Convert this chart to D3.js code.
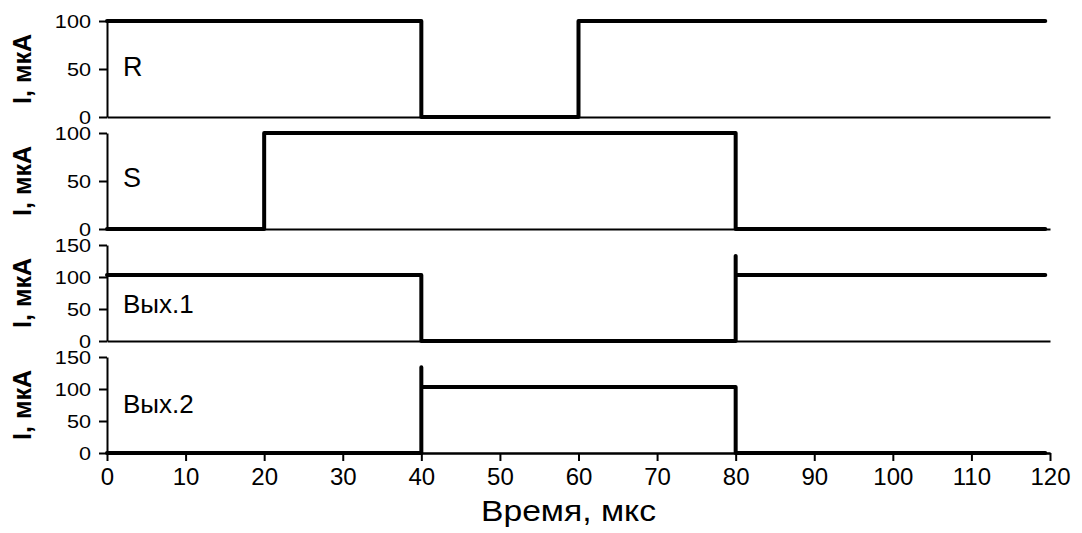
<!DOCTYPE html>
<html>
<head>
<meta charset="utf-8">
<script src="https://cdn.jsdelivr.net/npm/d3@7"></script>
<style>
  body { margin: 0; background: #fff; }
  svg { display: block; }
  text { font-family: "Liberation Sans", Arial, sans-serif; fill: #000; }
</style>
</head>
<body>
<div id="chart"></div>
<script>
/**
 * DATA
 * */
const panelNames = ["R", "S", "Вых.1", "Вых.2"];
const yMaxes = [100, 100, 150, 150];
const yTicksSmall = [0, 50, 100];
const yTicksBig = [0, 50, 100, 150];
const xTicks = [0, 10, 20, 30, 40, 50, 60, 70, 80, 90, 100, 110, 120];

// step signals: time (мкс) and current (мкА)
const rTime = [0, 40, 40, 60, 60, 119.4];
const rValues = [100, 100, 0, 0, 100, 100];
const sTime = [0, 20, 20, 80, 80, 119.4];
const sValues = [0, 0, 100, 100, 0, 0];
const out1Time = [0, 40, 40, 80, 80, 80, 119.4];
const out1Values = [103, 103, 0, 0, 133, 103, 103];
const out2Time = [0, 40, 40, 40, 80, 80, 119.4];
const out2Values = [0, 0, 134, 103, 103, 0, 0];

const yLabel = "I, мкА";
const xLabel = "Время, мкс";

/**
 * CONSTANTS
 * */
const width = 1082,
  height = 533,
  margin = { left: 107, right: 32, top: 21 },
  panelHeight = 96,
  panelGap = 16;

// where the name sits inside each panel (px from panel top)
const nameOffsets = [55, 54, 68, 56];
const nameSizes = [27, 27, 26, 26];

const series = [
  { time: rTime, values: rValues },
  { time: sTime, values: sValues },
  { time: out1Time, values: out1Values },
  { time: out2Time, values: out2Values }
];

let svg, x;

function init() {
  svg = d3
    .select("#chart")
    .append("svg")
    .attr("width", width)
    .attr("height", height);

  x = d3
    .scaleLinear()
    .domain([0, 120])
    .range([margin.left, width - margin.right]);

  series.forEach((s, i) => drawPanel(s, i));

  // bottom time axis on the last panel
  const lastBottom = margin.top + 4 * panelHeight + 3 * panelGap;
  const xAxis = svg
    .append("g")
    .attr("transform", `translate(0,${lastBottom})`)
    .call(
      d3
        .axisBottom(x)
        .tickValues(xTicks)
        .tickSize(8)
        .tickPadding(7)
        .tickSizeOuter(0)
    );
  styleAxis(xAxis, 24);

  // title sits a little left of the axis centre in the picture
  svg
    .append("text")
    .attr("x", x(60) - 10)
    .attr("y", 521)
    .attr("text-anchor", "middle")
    .attr("font-size", 29)
    .text(xLabel)
    .call(stretch, 1.16);
}

function drawPanel(s, i) {
  const top = margin.top + i * (panelHeight + panelGap);
  const y = d3
    .scaleLinear()
    .domain([0, yMaxes[i]])
    .range([top + panelHeight, top]);

  // baseline at zero, no ticks
  const base = svg
    .append("g")
    .attr("transform", `translate(0,${top + panelHeight})`)
    .call(d3.axisBottom(x).tickValues([]).tickSizeOuter(0));
  styleAxis(base, 24);

  const yAxis = svg
    .append("g")
    .attr("transform", `translate(${margin.left},0)`)
    .call(
      d3
        .axisLeft(y)
        .tickValues(yMaxes[i] > 100 ? yTicksBig : yTicksSmall)
        .tickSize(8)
        .tickPadding(8)
        .tickSizeOuter(0)
    );
  styleAxis(yAxis, 19);
  // the tick digits in the picture are a bit wider than the font
  const sx = 1.14;
  yAxis
    .selectAll(".tick text")
    .attr("x", -16 / sx)
    .attr("transform", `scale(${sx},1)`);

  const line = d3
    .line()
    .x((d, k) => x(s.time[k]))
    .y(d => y(d));

  svg
    .append("path")
    .datum(s.values)
    .attr("d", line)
    .attr("fill", "none")
    .attr("stroke", "#000")
    .attr("stroke-width", 4)
    .attr("stroke-linejoin", "round")
    .attr("stroke-linecap", "round");

  svg
    .append("text")
    .attr("x", x(0) + 16)
    .attr("y", top + nameOffsets[i])
    .attr("font-size", nameSizes[i])
    .text(panelNames[i]);

  const cy = top + panelHeight / 2;
  svg
    .append("text")
    .attr("transform", `translate(31,${cy}) rotate(-90)`)
    .attr("text-anchor", "middle")
    .attr("font-size", 25)
    .attr("font-weight", "bold")
    .text(yLabel);
}

// widen text by a factor, keeping its anchor
function stretch(sel, k) {
  sel.each(function() {
    const len = this.getComputedTextLength();
    d3.select(this)
      .attr("textLength", len * k)
      .attr("lengthAdjust", "spacingAndGlyphs");
  });
}

function styleAxis(g, fontSize) {
  g.selectAll(".domain").attr("stroke", "#000").attr("stroke-width", 2);
  g.selectAll(".tick line").attr("stroke", "#000").attr("stroke-width", 2);
  g.selectAll(".tick text")
    .attr("font-size", fontSize)
    .attr("font-family", '"Liberation Sans", Arial, sans-serif')
    .attr("fill", "#000");
}

init();
</script>
</body>
</html>
